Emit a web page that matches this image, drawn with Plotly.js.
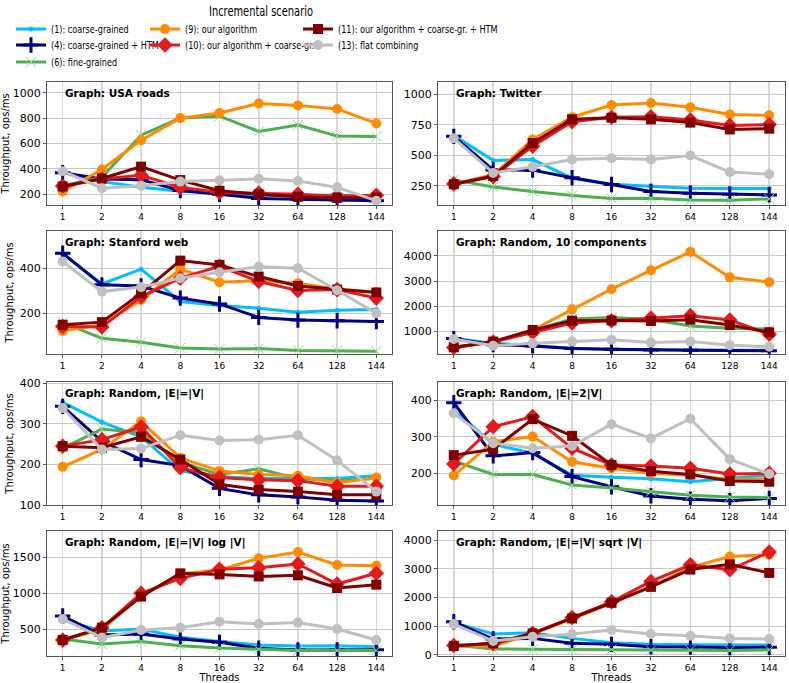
<!DOCTYPE html>
<html>
<head>
<meta charset="utf-8">
<script src="https://cdn.plot.ly/plotly-3.0.1.min.js"></script>
<style>
  body { margin: 0; padding: 0; background: #fff; }
  #plot { width: 789px; height: 683px; }
  /* the reference uses a narrow face for the legend entries */
  #plot text[class^="legend"][class$="text"] {
    transform-box: fill-box;
    transform-origin: 0% 50%;
    transform: scaleX(0.74);
  }
</style>
</head>
<body>
<div id="plot"></div>
<script>
// thread counts (categorical x axis)
var threads = ['1', '2', '4', '8', '16', '32', '64', '128', '144'];

var seriesNames = [
    '(1): coarse-grained',
    '(4): coarse-grained + HTM',
    '(6): fine-grained',
    '(9): our algorithm',
    '(10): our algorithm + coarse-gr.',
    '(11): our algorithm + coarse-gr. + HTM',
    '(13): flat combining'
];

var panelTitles = [
    'Graph: USA roads',
    'Graph: Twitter',
    'Graph: Stanford web',
    'Graph: Random, 10 components',
    'Graph: Random, |E|=|V|',
    'Graph: Random, |E|=2|V|',
    'Graph: Random, |E|=|V| log |V|',
    'Graph: Random, |E|=|V| sqrt |V|'
];

// each panel: one row per series, in the order of seriesNames
var usaRoads = [
    [375, 300, 255, 225, 210, 190, 190, 195, 185],
    [370, 320, 315, 230, 200, 168, 162, 155, 150],
    [265, 335, 665, 800, 815, 695, 745, 660, 655],
    [222, 395, 625, 800, 840, 915, 900, 872, 758],
    [265, 320, 350, 255, 215, 210, 200, 185, 192],
    [262, 325, 418, 312, 228, 200, 180, 172, 175],
    [382, 248, 268, 300, 310, 322, 305, 255, 150]
];
var twitter = [
    [662, 458, 465, 312, 262, 248, 230, 228, 228],
    [655, 380, 378, 315, 260, 203, 188, 180, 175],
    [298, 240, 203, 170, 146, 148, 133, 130, 142],
    [265, 340, 630, 812, 912, 928, 893, 835, 828],
    [265, 325, 575, 775, 812, 815, 790, 745, 752],
    [262, 330, 600, 795, 808, 795, 768, 712, 718],
    [640, 355, 405, 465, 475, 465, 498, 362, 345]
];
var stanfordWeb = [
    [465, 330, 396, 252, 234, 222, 204, 213, 216],
    [467, 326, 321, 267, 241, 181, 169, 166, 163],
    [158, 88, 70, 45, 40, 42, 34, 33, 30],
    [121, 148, 259, 396, 338, 345, 333, 307, 294],
    [141, 138, 274, 356, 409, 341, 301, 305, 267],
    [148, 160, 289, 434, 415, 363, 321, 305, 292],
    [430, 296, 316, 356, 382, 407, 400, 302, 199]
];
var random10 = [
    [730, 530, 450, 340, 290, 270, 270, 260, 255],
    [720, 480, 430, 330, 300, 270, 260, 250, 240],
    [360, 600, 1030, 1500, 1560, 1480, 1220, 1130, 1100],
    [360, 580, 1060, 1880, 2680, 3430, 4160, 3150, 2960],
    [370, 580, 960, 1340, 1430, 1530, 1630, 1460, 890],
    [380, 600, 1060, 1430, 1440, 1420, 1470, 1260, 970],
    [700, 440, 530, 600, 670, 560, 600, 460, 400]
];
var randomEV = [
    [353, 304, 268, 184, 170, 165, 165, 165, 172],
    [343, 257, 212, 197, 141, 125, 120, 112, 110],
    [240, 287, 278, 205, 175, 189, 165, 160, 165],
    [194, 237, 306, 216, 184, 175, 172, 154, 168],
    [245, 261, 292, 192, 168, 162, 160, 146, 146],
    [245, 241, 268, 212, 151, 138, 133, 125, 125],
    [339, 237, 239, 272, 259, 261, 272, 210, 133]
];
var randomE2V = [
    [375, 280, 255, 195, 189, 185, 177, 185, 195],
    [394, 248, 257, 191, 163, 138, 129, 125, 131],
    [234, 197, 197, 168, 160, 150, 140, 135, 133],
    [194, 287, 301, 232, 214, 200, 195, 183, 185],
    [226, 328, 356, 269, 223, 220, 214, 198, 200],
    [250, 266, 349, 303, 223, 206, 197, 179, 177],
    [365, 283, 269, 275, 335, 296, 350, 239, 198]
];
var randomLog = [
    [630, 477, 505, 389, 329, 282, 268, 273, 259],
    [685, 421, 435, 366, 319, 236, 213, 213, 215],
    [366, 296, 329, 273, 240, 220, 205, 205, 205],
    [350, 500, 960, 1270, 1324, 1486, 1574, 1393, 1384],
    [350, 520, 1000, 1208, 1333, 1356, 1407, 1129, 1278],
    [352, 523, 954, 1278, 1263, 1234, 1250, 1074, 1120],
    [643, 384, 491, 523, 606, 574, 593, 505, 352]
];
var randomSqrt = [
    [1121, 728, 774, 578, 428, 370, 360, 350, 350],
    [1156, 555, 578, 405, 370, 289, 280, 260, 270],
    [347, 208, 200, 190, 190, 160, 170, 160, 180],
    [300, 312, 728, 1272, 1792, 2370, 3050, 3428, 3487],
    [330, 400, 751, 1306, 1850, 2558, 3139, 2965, 3581],
    [312, 405, 751, 1272, 1815, 2370, 2971, 3156, 2855],
    [1075, 486, 636, 728, 867, 728, 671, 578, 555]
];

var panels = [usaRoads, twitter, stanfordWeb, random10, randomEV, randomE2V, randomLog, randomSqrt];
var yRanges = [[116, 1084], [92, 1101], [18, 566], [108, 4990], [100, 403], [113, 451], [129, 1866], [-35, 4313]];
var yDticks = [200, 250, 200, 1000, 100, 100, 500, 1000];

// styles per series
var styles = [
    {color: '#00bfff', symbol: 'circle', size: 5, lw: 0, lc: '#00bfff'},
    {color: '#000080', symbol: 'cross-thin', size: 11, lw: 3, lc: '#000080'},
    {color: '#4caf50', symbol: 'x-thin', size: 10, lw: 1, lc: '#88d888'},
    {color: '#ff8c00', symbol: 'circle', size: 10, lw: 0, lc: '#ff8c00'},
    {color: '#e41a1c', symbol: 'diamond', size: 12, lw: 0, lc: '#e41a1c'},
    {color: '#800000', symbol: 'square', size: 10, lw: 0, lc: '#800000'},
    {color: '#c0c0c0', symbol: 'circle', size: 10, lw: 0, lc: '#c0c0c0'}
];

var W = 789, H = 683;
// legend slot of each series: [text start x, row centre y] in pixels
var legendSlots = [[55, 29], [55, 45], [55, 62], [189, 29], [189, 45], [342, 29], [342, 45]];

// panel positions in pixels: columns and rows
var cols = [[47, 392], [438, 785]];
var rows = [[82, 205], [231, 354], [382, 505], [531, 656]];

var traces = [];
var layout = {
    width: W, height: H,
    margin: {l: 0, r: 0, t: 0, b: 0},
    paper_bgcolor: '#fff',
    plot_bgcolor: '#fff',
    font: {family: 'DejaVu Sans', size: 10, color: '#000'},
    title: {
        text: 'Incremental scenario',
        x: 261 / W, xanchor: 'center', xref: 'paper',
        y: 1 - 11 / H, yanchor: 'middle', yref: 'container',
        font: {family: 'DejaVu Sans', size: 14, color: '#000'}
    },
    annotations: [],
    showlegend: true
};

legendSlots.forEach(function(slot, s) {
    var name = 'legend' + (s === 0 ? '' : s + 1);
    layout[name] = {
        x: (slot[0] - 44) / W, xanchor: 'left',
        y: 1 - slot[1] / H, yanchor: 'middle',
        orientation: 'v',
        bgcolor: 'rgba(0,0,0,0)',
        font: {family: 'DejaVu Sans', size: 11, color: '#000'},
        itemwidth: 30
    };
});

panels.forEach(function(panel, p) {
    var c = p % 2, r = Math.floor(p / 2);
    var n = p + 1;
    var xname = 'xaxis' + (n === 1 ? '' : n);
    var yname = 'yaxis' + (n === 1 ? '' : n);
    var xref = 'x' + (n === 1 ? '' : n);
    var yref = 'y' + (n === 1 ? '' : n);

    layout[xname] = {
        domain: [cols[c][0] / W, cols[c][1] / W],
        anchor: yref,
        type: 'category',
        range: [-0.4, 8.4],
        showgrid: true, gridcolor: '#d8d8d8', gridwidth: 1.6,
        showline: true, linecolor: '#555', linewidth: 1, mirror: true,
        ticks: 'outside', ticklen: 3, tickcolor: '#555',
        tickfont: {family: 'DejaVu Sans', size: 9, color: '#000'},
        zeroline: false,
        fixedrange: true
    };
    if (r === 3) {
        layout[xname].title = {text: 'Threads', font: {family: 'DejaVu Sans', size: 10}, standoff: 0};
    }
    layout[yname] = {
        domain: [1 - rows[r][1] / H, 1 - rows[r][0] / H],
        anchor: xref,
        range: yRanges[p],
        dtick: yDticks[p],
        tick0: 0,
        showgrid: true, gridcolor: '#c8c8c8', gridwidth: 1,
        showline: true, linecolor: '#555', linewidth: 1, mirror: true,
        ticks: 'outside', ticklen: 3, tickcolor: '#555',
        tickfont: {family: 'DejaVu Sans', size: 11, color: '#000'},
        zeroline: false,
        fixedrange: true
    };
    if (c === 0) {
        layout[yname].title = {text: 'Throughput, ops/ms', font: {family: 'DejaVu Sans', size: 10}, standoff: 4};
    }

    layout.annotations.push({
        text: '<b>' + panelTitles[p] + '</b>',
        xref: xref + ' domain', yref: yref + ' domain',
        x: 0.045, y: 0.975, xanchor: 'left', yanchor: 'top',
        showarrow: false,
        font: {family: 'DejaVu Sans', size: 10.5, color: '#000'}
    });

    panel.forEach(function(vals, s) {
        var st = styles[s];
        traces.push({
            x: threads,
            y: vals,
            xaxis: xref, yaxis: yref,
            type: 'scatter',
            mode: 'lines+markers',
            name: seriesNames[s],
            legend: 'legend' + (s === 0 ? '' : s + 1),
            showlegend: p === 0,
            line: {color: st.color, width: 3},
            marker: {symbol: st.symbol, size: st.size, color: st.lc,
                     line: {color: st.lc, width: st.lw}},
            hoverinfo: 'skip'
        });
    });
});

Plotly.newPlot('plot', traces, layout, {staticPlot: true}).then(function(gd) {
    // narrow the figure title like the reference
    var title = gd.querySelector('text.gtitle');
    if (title) {
        title.setAttribute('textLength', '104');
        title.setAttribute('lengthAdjust', 'spacingAndGlyphs');
    }
});
</script>
</body>
</html>
